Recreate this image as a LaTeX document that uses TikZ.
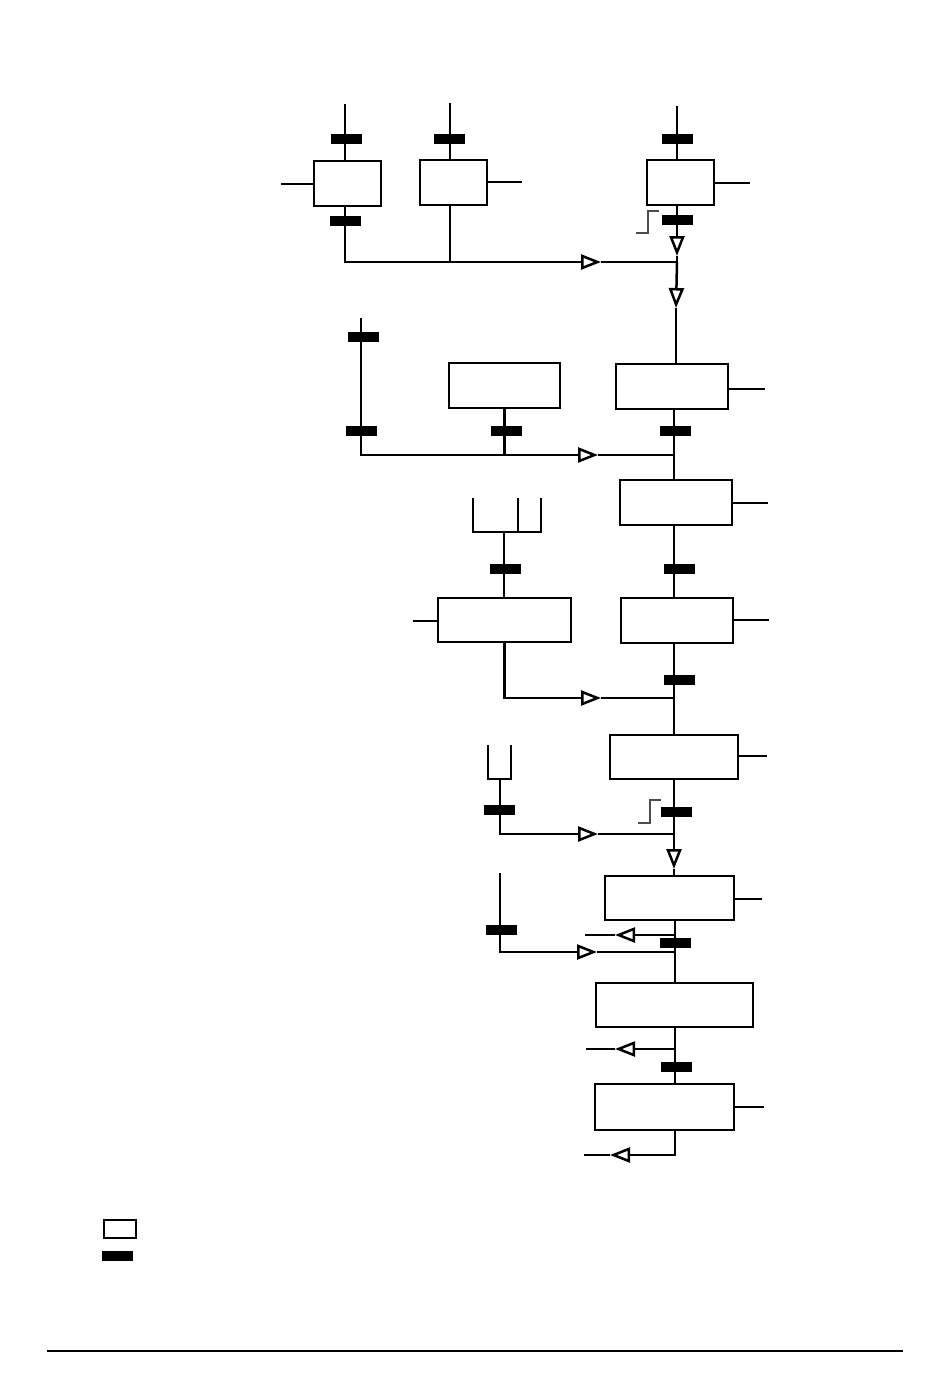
\documentclass[tikz,border=0pt]{standalone}
\usetikzlibrary{arrows.meta}
\tikzset{
  unit/.style={draw, line width=2.5pt, fill=white, inner sep=0pt},
  valve/.style={fill=black, inner sep=0pt, minimum width=31pt, minimum height=10pt},
  pipe/.style={line width=2.5pt},
  flow/.style={pipe, -{Triangle[length=20pt, width=15pt, fill=white]}},
  stepsig/.style={line width=1.5pt, black!70},
}
\begin{document}
\begin{tikzpicture}[x=1pt, y=-1pt]
\useasboundingbox (0,0) rectangle (950,1381);

% units
\node[unit, minimum width=67pt, minimum height=45pt] (boxA) at (347.5,183.5) {};
\node[unit, minimum width=67pt, minimum height=45pt] (boxB) at (453.5,182.5) {};
\node[unit, minimum width=67pt, minimum height=45pt] (boxC) at (680.5,182.5) {};
\node[unit, minimum width=111pt, minimum height=45pt] (boxD) at (504.5,385.5) {};
\node[unit, minimum width=112pt, minimum height=45pt] (boxE) at (672,386.5) {};
\node[unit, minimum width=112pt, minimum height=45pt] (boxF) at (676,502.5) {};
\node[unit, minimum width=133pt, minimum height=44pt] (boxH) at (504.5,620) {};
\node[unit, minimum width=112pt, minimum height=45pt] (boxG) at (677,620.5) {};
\node[unit, minimum width=128pt, minimum height=44pt] (boxI) at (674,757) {};
\node[unit, minimum width=129pt, minimum height=44pt] (boxJ) at (669.5,898) {};
\node[unit, minimum width=157pt, minimum height=44pt] (boxK) at (674.5,1005) {};
\node[unit, minimum width=139pt, minimum height=46pt] (boxL) at (664.5,1107) {};

% free ends and junctions
\coordinate (inA) at (345,104);
\coordinate (inB) at (450,103);
\coordinate (inC) at (677,106);
\coordinate (outA) at (281,184);
\coordinate (outB) at (522,182);
\coordinate (outC) at (750,183);
\coordinate (j1) at (677,262);
\coordinate (a1) at (601,262);
\coordinate (a2) at (677,256);
\coordinate (a3) at (676,308);
\coordinate (inD) at (361,318);
\coordinate (j2) at (674,455);
\coordinate (b1) at (598,455);
\coordinate (outE) at (765,389);
\coordinate (outF) at (768,503);
\coordinate (fork) at (504,532);
\coordinate (outH) at (413,621);
\coordinate (outG) at (769,620);
\coordinate (j3) at (674,698);
\coordinate (c1) at (601,698);
\coordinate (outI) at (767,756);
\coordinate (j4) at (674,834);
\coordinate (d1) at (598,834);
\coordinate (d2) at (674,869);
\coordinate (cup) at (500,779);
\coordinate (outJ) at (762,899);
\coordinate (inJ) at (500,873);
\coordinate (j5) at (675,952);
\coordinate (e1) at (597,952);
\coordinate (t1) at (615,935);
\coordinate (r1) at (585,935);
\coordinate (t2) at (615,1049);
\coordinate (r2) at (586,1049);
\coordinate (outL) at (764,1107);
\coordinate (t3) at (610,1155);
\coordinate (r3) at (584,1155);

% top row
\draw[pipe] (inA) -- (inA |- boxA.north);
\draw[pipe] (inB) -- (inB |- boxB.north);
\draw[pipe] (inC) -- (inC |- boxC.north);
\draw[pipe] (outA) -- (outA -| boxA.west);
\draw[pipe] (outB) -- (outB -| boxB.east);
\draw[pipe] (outC) -- (outC -| boxC.east);
\draw[flow] (inA |- boxA.south) |- (a1);
\draw[pipe] (a1) -- (j1);
\draw[pipe] (inB |- boxB.south) -- (inB |- j1);
\draw[flow] (inC |- boxC.south) -- (a2);
\draw[pipe] (a2) -- (j1);
\draw[flow] (j1) -- (a3);
\draw[pipe] (a3) -- (a3 |- boxE.north);
\draw[stepsig] (636,233) -- (648,233) -- (648,211) -- (659,211);

% second row
\draw[flow] (inD) |- (b1);
\draw[pipe] (b1) -- (j2);
\draw[pipe] (boxD.south) -- (boxD.south |- j2);
\draw[pipe] (j2 |- boxE.south) -- (j2) -- (j2 |- boxF.north);
\draw[pipe] (outE) -- (outE -| boxE.east);
\draw[pipe] (outF) -- (outF -| boxF.east);
\draw[pipe] (j2 |- boxF.south) -- (j2 |- boxG.north);

% fork and H
\draw[pipe] (473,498) |- (541,532) -- (541,498);
\draw[pipe] (518,498) -- (518,532);
\draw[pipe] (fork) -- (fork |- boxH.north);
\draw[pipe] (outH) -- (outH -| boxH.west);
\draw[flow] (boxH.south) |- (c1);
\draw[pipe] (c1) -- (j3);
\draw[pipe] (outG) -- (outG -| boxG.east);
\draw[pipe] (j3 |- boxG.south) -- (j3) -- (j3 |- boxI.north);

% I and J
\draw[pipe] (outI) -- (outI -| boxI.east);
\draw[pipe] (boxI.south) -- (j4);
\draw[flow] (j4) -- (d2);
\draw[pipe] (d2) -- (d2 |- boxJ.north);
\draw[pipe] (488,745) |- (511,779) -- (511,745);
\draw[flow] (cup) |- (d1);
\draw[pipe] (d1) -- (j4);
\draw[stepsig] (638,823) -- (650,823) -- (650,800) -- (661,800);

% J, K, L
\draw[pipe] (outJ) -- (outJ -| boxJ.east);
\draw[pipe] (j5 |- boxJ.south) -- (j5) -- (j5 |- boxK.north);
\draw[flow] (j5 |- t1) -- (t1);
\draw[pipe] (t1) -- (r1);
\draw[flow] (inJ) |- (e1);
\draw[pipe] (e1) -- (j5);
\draw[pipe] (j5 |- boxK.south) -- (j5 |- boxL.north);
\draw[flow] (j5 |- t2) -- (t2);
\draw[pipe] (t2) -- (r2);
\draw[pipe] (outL) -- (outL -| boxL.east);
\draw[flow] (j5 |- boxL.south) |- (t3);
\draw[pipe] (t3) -- (r3);

% valves
\node[valve] (vA1) at (346.5,139) {};
\node[valve] (vB1) at (449.5,139) {};
\node[valve] (vC1) at (677.5,139) {};
\node[valve] (vA2) at (345.5,221) {};
\node[valve] (vC2) at (677.5,220) {};
\node[valve] (vD1) at (363,337) {};
\node[valve] (vD2) at (361,431) {};
\node[valve] (vD3) at (506,431) {};
\node[valve] (vE) at (675.5,431) {};
\node[valve] (vF) at (679.5,569) {};
\node[valve] (vH) at (505.5,569) {};
\node[valve] (vG) at (679.5,680) {};
\node[valve] (vI) at (676.5,812) {};
\node[valve] (vU) at (499.5,810) {};
\node[valve] (vJ) at (675.5,943) {};
\node[valve] (vJl) at (501,930) {};
\node[valve] (vK) at (676.5,1067) {};

% key
\node[unit, line width=1.8pt, minimum width=32pt, minimum height=18pt] (keyUnit) at (120,1229) {};
\node[valve] (keyValve) at (117.5,1256) {};
\draw[line width=1.5pt] (47,1351) -- (903,1351);
\end{tikzpicture}
\end{document}
